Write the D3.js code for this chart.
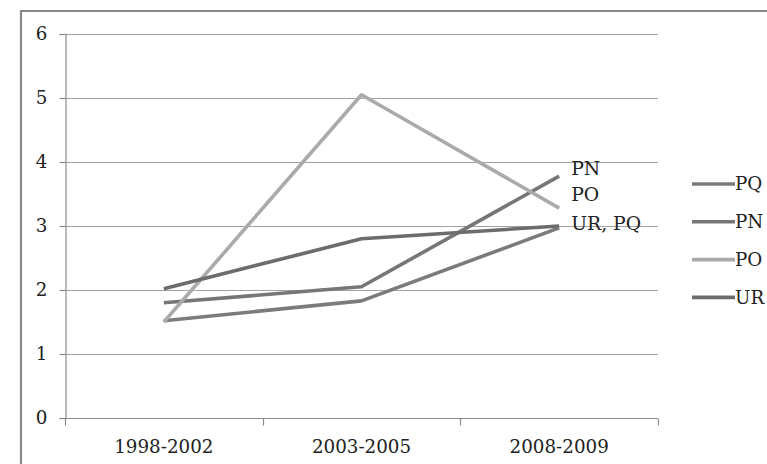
<!DOCTYPE html>
<html>
<head>
<meta charset="utf-8">
<script src="https://cdn.jsdelivr.net/npm/d3@7/dist/d3.min.js"></script>
<style>
  html, body { margin: 0; padding: 0; background: #fff; }
  svg { display: block; font-family: "DejaVu Serif", serif; }
</style>
</head>
<body>
<svg id="chart" width="767" height="464"></svg>
<script>
// Periods on the x axis
const categories = ["1998-2002", "2003-2005", "2008-2009"];

// Series values, one per period
const seriesNames = ["PQ", "PN", "PO", "UR"];
const valuesPQ = [1.52, 1.83, 2.97];
const valuesPN = [1.80, 2.05, 3.78];
const valuesPO = [1.50, 5.05, 3.28];
const valuesUR = [2.02, 2.80, 3.00];

// Y axis ticks
const yTicks = [0, 1, 2, 3, 4, 5, 6];

// End-of-line labels and the value each one sits beside
const endLabels = ["PN", "PO", "UR, PQ"];
const endLabelValues = [3.78, 3.28, 3.00];

const colors = { PQ: "#7b7b7b", PN: "#767676", PO: "#aaaaaa", UR: "#6c6c6c" };
const series = [
  { name: "PQ", values: valuesPQ },
  { name: "PN", values: valuesPN },
  { name: "PO", values: valuesPO },
  { name: "UR", values: valuesUR }
];

const FS = 18.3;
const svg = d3.select("#chart");
const margin = { left: 65, top: 34, right: 109, bottom: 46 };
const W = 767, H = 464;
const plotW = W - margin.left - margin.right;
const plotH = H - margin.top - margin.bottom;

// Outer frame
svg.append("path")
  .attr("d", "M21,464V11H767")
  .attr("fill", "none")
  .attr("stroke", "#8a8a8a")
  .attr("stroke-width", 2.2);

const g = svg.append("g").attr("transform", `translate(${margin.left},${margin.top})`);

const x = d3.scaleBand().domain(categories).range([0, plotW]).paddingInner(0).paddingOuter(0);
const y = d3.scaleLinear().domain([0, 6]).range([plotH, 0]);
const cx = c => x(c) + x.bandwidth() / 2;

// Horizontal gridlines
g.append("g")
  .selectAll("line")
  .data(yTicks.filter(t => t > 0))
  .join("line")
  .attr("x1", 0).attr("x2", plotW)
  .attr("y1", d => Math.round(y(d)) + 0.5).attr("y2", d => Math.round(y(d)) + 0.5)
  .attr("stroke", "#a3a3a3")
  .attr("stroke-width", 1.2);

// Y axis
const yAxis = g.append("g")
  .attr("transform", "translate(0.5,0)")
  .call(d3.axisLeft(y).tickValues(yTicks).tickSize(6).tickPadding(12).tickFormat(d3.format("d")));
yAxis.select(".domain").attr("stroke", "#8c8c8c").attr("stroke-width", 1.2);
yAxis.selectAll(".tick line").attr("stroke", "#8c8c8c").attr("stroke-width", 1.2);
yAxis.selectAll(".tick text")
  .attr("font-family", "DejaVu Serif, serif")
  .attr("font-size", FS)
  .attr("fill", "#222");

// X axis with ticks at band boundaries
const xAxisG = g.append("g").attr("transform", `translate(0,${Math.round(plotH) + 0.5})`);
xAxisG.append("line")
  .attr("x1", 0).attr("x2", plotW)
  .attr("stroke", "#8c8c8c").attr("stroke-width", 1.2);
const boundaries = categories.map(c => x(c)).concat([plotW]);
xAxisG.selectAll("line.tk")
  .data(boundaries)
  .join("line")
  .attr("class", "tk")
  .attr("x1", d => Math.round(d) + 0.5).attr("x2", d => Math.round(d) + 0.5)
  .attr("y1", 0).attr("y2", 7)
  .attr("stroke", "#8c8c8c").attr("stroke-width", 1.2);
xAxisG.selectAll("text")
  .data(categories)
  .join("text")
  .attr("x", d => cx(d))
  .attr("y", 34)
  .attr("text-anchor", "middle")
  .attr("font-size", FS)
  .attr("fill", "#222")
  .text(d => d);

// Series lines
const line = d3.line()
  .x((d, i) => cx(categories[i]))
  .y(d => y(d));

g.append("g")
  .selectAll("path")
  .data(series)
  .join("path")
  .attr("d", d => line(d.values))
  .attr("fill", "none")
  .attr("stroke", d => colors[d.name])
  .attr("stroke-width", 3.6)
  .attr("stroke-linejoin", "round");

// Labels beside the last period
const lastX = cx(categories[categories.length - 1]);
const labelDy = [-8, -14, -3];
g.append("g")
  .selectAll("text")
  .data(endLabels)
  .join("text")
  .attr("x", lastX + 12)
  .attr("y", (d, i) => y(endLabelValues[i]) + labelDy[i])
  .attr("dy", "0.35em")
  .attr("font-size", FS + 0.5)
  .attr("fill", "#222")
  .text(d => d);

// Legend
const legend = svg.append("g").attr("transform", "translate(692,184)");
const item = legend.selectAll("g")
  .data(seriesNames)
  .join("g")
  .attr("transform", (d, i) => `translate(0,${i * 37.8})`);
item.append("line")
  .attr("x1", 0).attr("x2", 43)
  .attr("stroke", d => colors[d])
  .attr("stroke-width", 3.6);
item.append("text")
  .attr("x", 43)
  .attr("dy", "0.35em")
  .attr("font-size", FS)
  .attr("fill", "#222")
  .text(d => d);
</script>
</body>
</html>
